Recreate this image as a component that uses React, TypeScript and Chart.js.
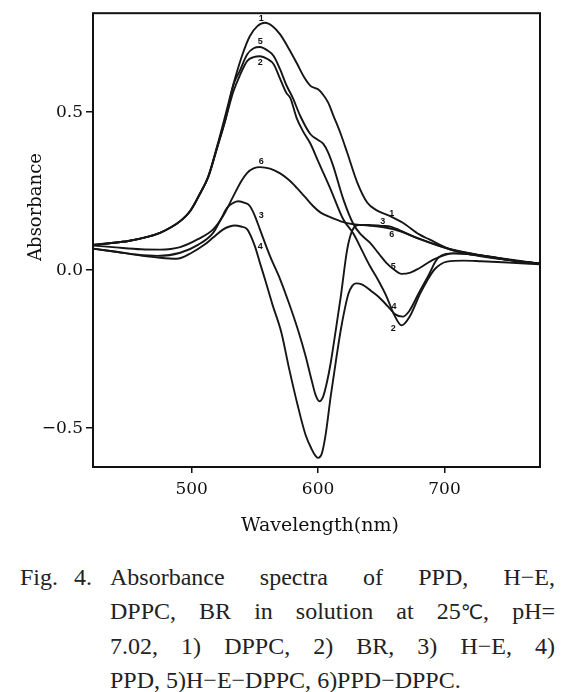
import React, { useEffect, useRef } from 'react';
import { Chart, registerables } from 'chart.js';

Chart.register(...registerables);

// Axis ticks
const xTicks = [500, 600, 700];
const yTicks = [-0.5, 0, 0.5];

// 1) DPPC
const wl1 = [422, 435, 450, 465, 475, 483, 491, 499, 507, 513, 520, 527, 533, 540, 546, 552, 558, 564, 570, 577, 583, 589, 594, 600, 604, 608, 612, 618, 623, 631, 639, 646, 657, 667, 680, 688, 704, 720, 740, 760, 776];
const abs1 = [0.080, 0.085, 0.092, 0.105, 0.118, 0.134, 0.155, 0.188, 0.245, 0.295, 0.390, 0.495, 0.588, 0.680, 0.740, 0.772, 0.783, 0.772, 0.746, 0.700, 0.656, 0.610, 0.583, 0.572, 0.555, 0.530, 0.490, 0.430, 0.372, 0.277, 0.213, 0.190, 0.171, 0.150, 0.113, 0.097, 0.066, 0.050, 0.037, 0.027, 0.020];

// 2) BR
const wl2 = [422, 435, 450, 465, 475, 483, 491, 499, 507, 513, 520, 527, 533, 538, 544, 549, 554, 560, 565, 570, 575, 578, 583, 588, 594, 600, 610, 620, 628, 635, 641, 648, 654, 660, 666, 672, 681, 686, 692, 702, 715, 729, 750, 776];
const abs2 = [0.080, 0.085, 0.092, 0.105, 0.118, 0.134, 0.155, 0.188, 0.245, 0.293, 0.385, 0.480, 0.565, 0.615, 0.662, 0.674, 0.677, 0.668, 0.651, 0.605, 0.560, 0.545, 0.482, 0.440, 0.400, 0.345, 0.255, 0.160, 0.115, 0.060, 0.013, -0.035, -0.082, -0.140, -0.175, -0.150, -0.072, -0.035, 0.002, 0.027, 0.030, 0.028, 0.024, 0.018];

// 3) H-E
const wl3 = [422, 440, 455, 473, 491, 505, 517, 523, 528, 533, 537, 542, 546, 550, 554, 562, 570, 577, 584, 590, 595, 598, 601, 604, 607, 610, 614, 618, 623, 627, 632, 640, 650, 658, 665, 681, 704, 733, 755, 776];
const abs3 = [0.068, 0.058, 0.050, 0.045, 0.055, 0.080, 0.118, 0.160, 0.197, 0.213, 0.218, 0.213, 0.203, 0.172, 0.129, 0.044, -0.029, -0.105, -0.188, -0.270, -0.350, -0.395, -0.415, -0.400, -0.355, -0.293, -0.190, -0.082, 0.065, 0.125, 0.143, 0.143, 0.140, 0.137, 0.125, 0.098, 0.067, 0.044, 0.030, 0.020];

// 4) PPD
const wl4 = [422, 440, 460, 475, 488, 500, 510, 517, 525, 530, 534, 539, 544, 550, 554, 558, 564, 571, 577, 584, 590, 595, 598, 600, 603, 606, 610, 614, 618, 621, 624, 627, 630, 635, 642, 648, 655, 661, 667, 672, 680, 687, 695, 707, 720, 735, 755, 776];
const abs4 = [0.068, 0.058, 0.046, 0.039, 0.036, 0.055, 0.080, 0.103, 0.129, 0.138, 0.141, 0.138, 0.129, 0.076, 0.023, -0.029, -0.110, -0.198, -0.310, -0.430, -0.520, -0.567, -0.588, -0.594, -0.580, -0.520, -0.399, -0.290, -0.188, -0.125, -0.075, -0.050, -0.042, -0.046, -0.066, -0.085, -0.114, -0.140, -0.147, -0.130, -0.070, -0.019, 0.039, 0.053, 0.050, 0.043, 0.030, 0.020];

// 5) H-E-DPPC
const wl5 = [422, 435, 450, 465, 475, 483, 491, 499, 507, 513, 520, 527, 533, 538, 544, 549, 554, 560, 565, 570, 575, 580, 586, 594, 600, 604, 608, 612, 620, 628, 634, 641, 648, 654, 660, 666, 673, 680, 692, 707, 720, 740, 760, 776];
const abs5 = [0.080, 0.085, 0.092, 0.105, 0.118, 0.134, 0.155, 0.188, 0.245, 0.293, 0.385, 0.480, 0.585, 0.630, 0.683, 0.702, 0.706, 0.695, 0.677, 0.635, 0.585, 0.545, 0.487, 0.430, 0.412, 0.400, 0.372, 0.329, 0.224, 0.145, 0.112, 0.087, 0.052, 0.023, 0.002, -0.012, -0.008, 0.006, 0.035, 0.053, 0.050, 0.040, 0.029, 0.020];

// 6) PPD-DPPC
const wl6 = [422, 440, 460, 475, 491, 505, 517, 525, 533, 539, 544, 549, 554, 562, 570, 577, 583, 590, 596, 602, 610, 620, 628, 640, 654, 665, 681, 704, 733, 755, 776];
const abs6 = [0.078, 0.072, 0.066, 0.065, 0.073, 0.098, 0.129, 0.172, 0.234, 0.280, 0.308, 0.322, 0.326, 0.321, 0.306, 0.285, 0.261, 0.230, 0.203, 0.182, 0.167, 0.152, 0.145, 0.141, 0.134, 0.123, 0.097, 0.066, 0.043, 0.030, 0.020];

const seriesNames = ['DPPC', 'BR', 'H-E', 'PPD', 'H-E-DPPC', 'PPD-DPPC'];

// Curve number labels (text, wavelength, absorbance)
const labelText = ['1', '5', '2', '6', '3', '4', '1', '3', '6', '5', '4', '2'];
const labelWl = [555, 554.2, 554.2, 555, 555, 554.2, 658.2, 651.1, 658.2, 659.5, 660, 659.5];
const labelAbs = [0.795, 0.724, 0.656, 0.343, 0.174, 0.076, 0.178, 0.153, 0.114, 0.010, -0.114, -0.186];

const captionLines = [
  'Absorbance spectra of PPD, H\u2212E,',
  'DPPC, BR in solution at 25\u2103, pH=',
  '7.02, 1) DPPC, 2) BR, 3) H\u2212E, 4)',
  'PPD, 5)H\u2212E\u2212DPPC, 6)PPD\u2212DPPC.',
];

const framePlugin = {
  id: 'frame',
  afterDatasetsDraw(chart: any) {
    const { ctx, chartArea } = chart;
    ctx.save();
    ctx.strokeStyle = '#111';
    ctx.lineWidth = 2;
    ctx.strokeRect(chartArea.left, chartArea.top, chartArea.right - chartArea.left, chartArea.bottom - chartArea.top);
    ctx.restore();
  },
};

const labelPlugin = {
  id: 'curveLabels',
  afterDatasetsDraw(chart: any) {
    const { ctx, scales } = chart;
    ctx.save();
    ctx.fillStyle = '#111';
    ctx.font = 'bold 9px "Liberation Sans", sans-serif';
    ctx.textAlign = 'center';
    ctx.textBaseline = 'middle';
    labelText.forEach((t, i) => {
      ctx.fillText(t, scales.x.getPixelForValue(labelWl[i]), scales.y.getPixelForValue(labelAbs[i]));
    });
    ctx.restore();
  },
};

const titlePlugin = {
  id: 'axisTitles',
  afterDraw(chart: any) {
    const { ctx } = chart;
    ctx.save();
    ctx.fillStyle = '#111';
    ctx.font = '18px "DejaVu Serif", serif';
    ctx.textAlign = 'center';
    ctx.textBaseline = 'middle';
    ctx.translate(36, 207);
    ctx.rotate(-Math.PI / 2);
    ctx.fillText('Absorbance', 0, 0);
    ctx.restore();
    ctx.save();
    ctx.fillStyle = '#111';
    ctx.font = '19px "DejaVu Serif", serif';
    ctx.textAlign = 'center';
    ctx.textBaseline = 'middle';
    ctx.fillText('Wavelength(nm)', 320, 526);
    ctx.restore();
  },
};

// Render a caption line; words holding the degree sign are kept as one atomic box
function renderLine(t: string) {
  const words = t.split(' ');
  return words.map((w, i) => {
    const sep = i < words.length - 1 ? ' ' : '';
    if (w.indexOf('\u2103') < 0) return <React.Fragment key={i}>{w + sep}</React.Fragment>;
    const [a, b] = w.split('\u2103');
    return (
      <React.Fragment key={i}>
        <span style={{ display: 'inline-block' }}>
          {a}
          <span style={{ fontFamily: '"DejaVu Sans", sans-serif', fontSize: 20 }}>{'\u2103'}</span>
          {b}
        </span>
        {sep}
      </React.Fragment>
    );
  });
}

export default function App() {
  const ref = useRef<HTMLCanvasElement>(null);

  useEffect(() => {
    if (!ref.current) return;
    const series = [
      [wl1, abs1],
      [wl2, abs2],
      [wl3, abs3],
      [wl4, abs4],
      [wl5, abs5],
      [wl6, abs6],
    ];
    const chart = new Chart(ref.current, {
      type: 'line',
      data: {
        datasets: series.map(([w, a], i) => ({
          label: seriesNames[i],
          data: (w as number[]).map((x, j) => ({ x, y: (a as number[])[j] })),
          borderColor: '#161616',
          borderWidth: 1.9,
          pointRadius: 0,
          fill: false,
          cubicInterpolationMode: 'monotone' as const,
        })),
      },
      options: {
        responsive: false,
        animation: false,
        devicePixelRatio: 1,
        layout: { padding: { top: 13, right: 22, left: 0, bottom: 0 } },
        plugins: {
          legend: { display: false },
          tooltip: { enabled: false },
        },
        scales: {
          x: {
            type: 'linear',
            min: 422,
            max: 775.5,
            afterBuildTicks: (s: any) => {
              s.ticks = xTicks.map((v) => ({ value: v }));
            },
            afterFit: (s: any) => {
              s.height = 78;
            },
            grid: { display: true, drawOnChartArea: false, drawTicks: true, tickLength: 6, color: '#111', lineWidth: 1.5 },
            border: { display: false },
            ticks: {
              color: '#111',
              font: { family: '"DejaVu Serif", serif', size: 17 },
              padding: 6,
              maxRotation: 0,
              callback: (v: any) => String(v),
            },
          },
          y: {
            type: 'linear',
            min: -0.623,
            max: 0.813,
            afterBuildTicks: (s: any) => {
              s.ticks = yTicks.map((v) => ({ value: v }));
            },
            afterFit: (s: any) => {
              s.width = 93;
            },
            grid: { display: true, drawOnChartArea: false, drawTicks: true, tickLength: 7, color: '#111', lineWidth: 1.5 },
            border: { display: false },
            ticks: {
              color: '#111',
              font: { family: '"DejaVu Serif", serif', size: 17 },
              padding: 3,
              callback: (v: any) => (v < 0 ? '\u2212' : '') + Math.abs(Number(v)).toFixed(1),
            },
          },
        },
      },
      plugins: [framePlugin, labelPlugin, titlePlugin],
    } as any);
    return () => chart.destroy();
  }, []);

  return (
    <div style={{ position: 'absolute', left: 0, top: 0, width: 562, height: 692, background: '#fff', overflow: 'hidden' }}>
      <canvas ref={ref} width={562} height={545} style={{ position: 'absolute', left: 0, top: 0, width: 562, height: 545 }} />
      <div
        style={{
          position: 'absolute',
          left: 0,
          top: 560,
          width: 562,
          fontFamily: '"Liberation Serif", "DejaVu Serif", serif',
          fontSize: 24,
          lineHeight: '34px',
          color: '#222',
        }}
      >
        <div style={{ position: 'absolute', left: 20, top: 0, wordSpacing: 10 }}>Fig. 4.</div>
        <div style={{ position: 'absolute', left: 110, top: 0, width: 445 }}>
          {captionLines.map((t, i) => (
            <div
              key={i}
              style={{
                textAlign: i < captionLines.length - 1 ? 'justify' : 'left',
                textAlignLast: i < captionLines.length - 1 ? 'justify' : 'left',
              } as any}
            >
              {renderLine(t)}
            </div>
          ))}
        </div>
      </div>
    </div>
  );
}
